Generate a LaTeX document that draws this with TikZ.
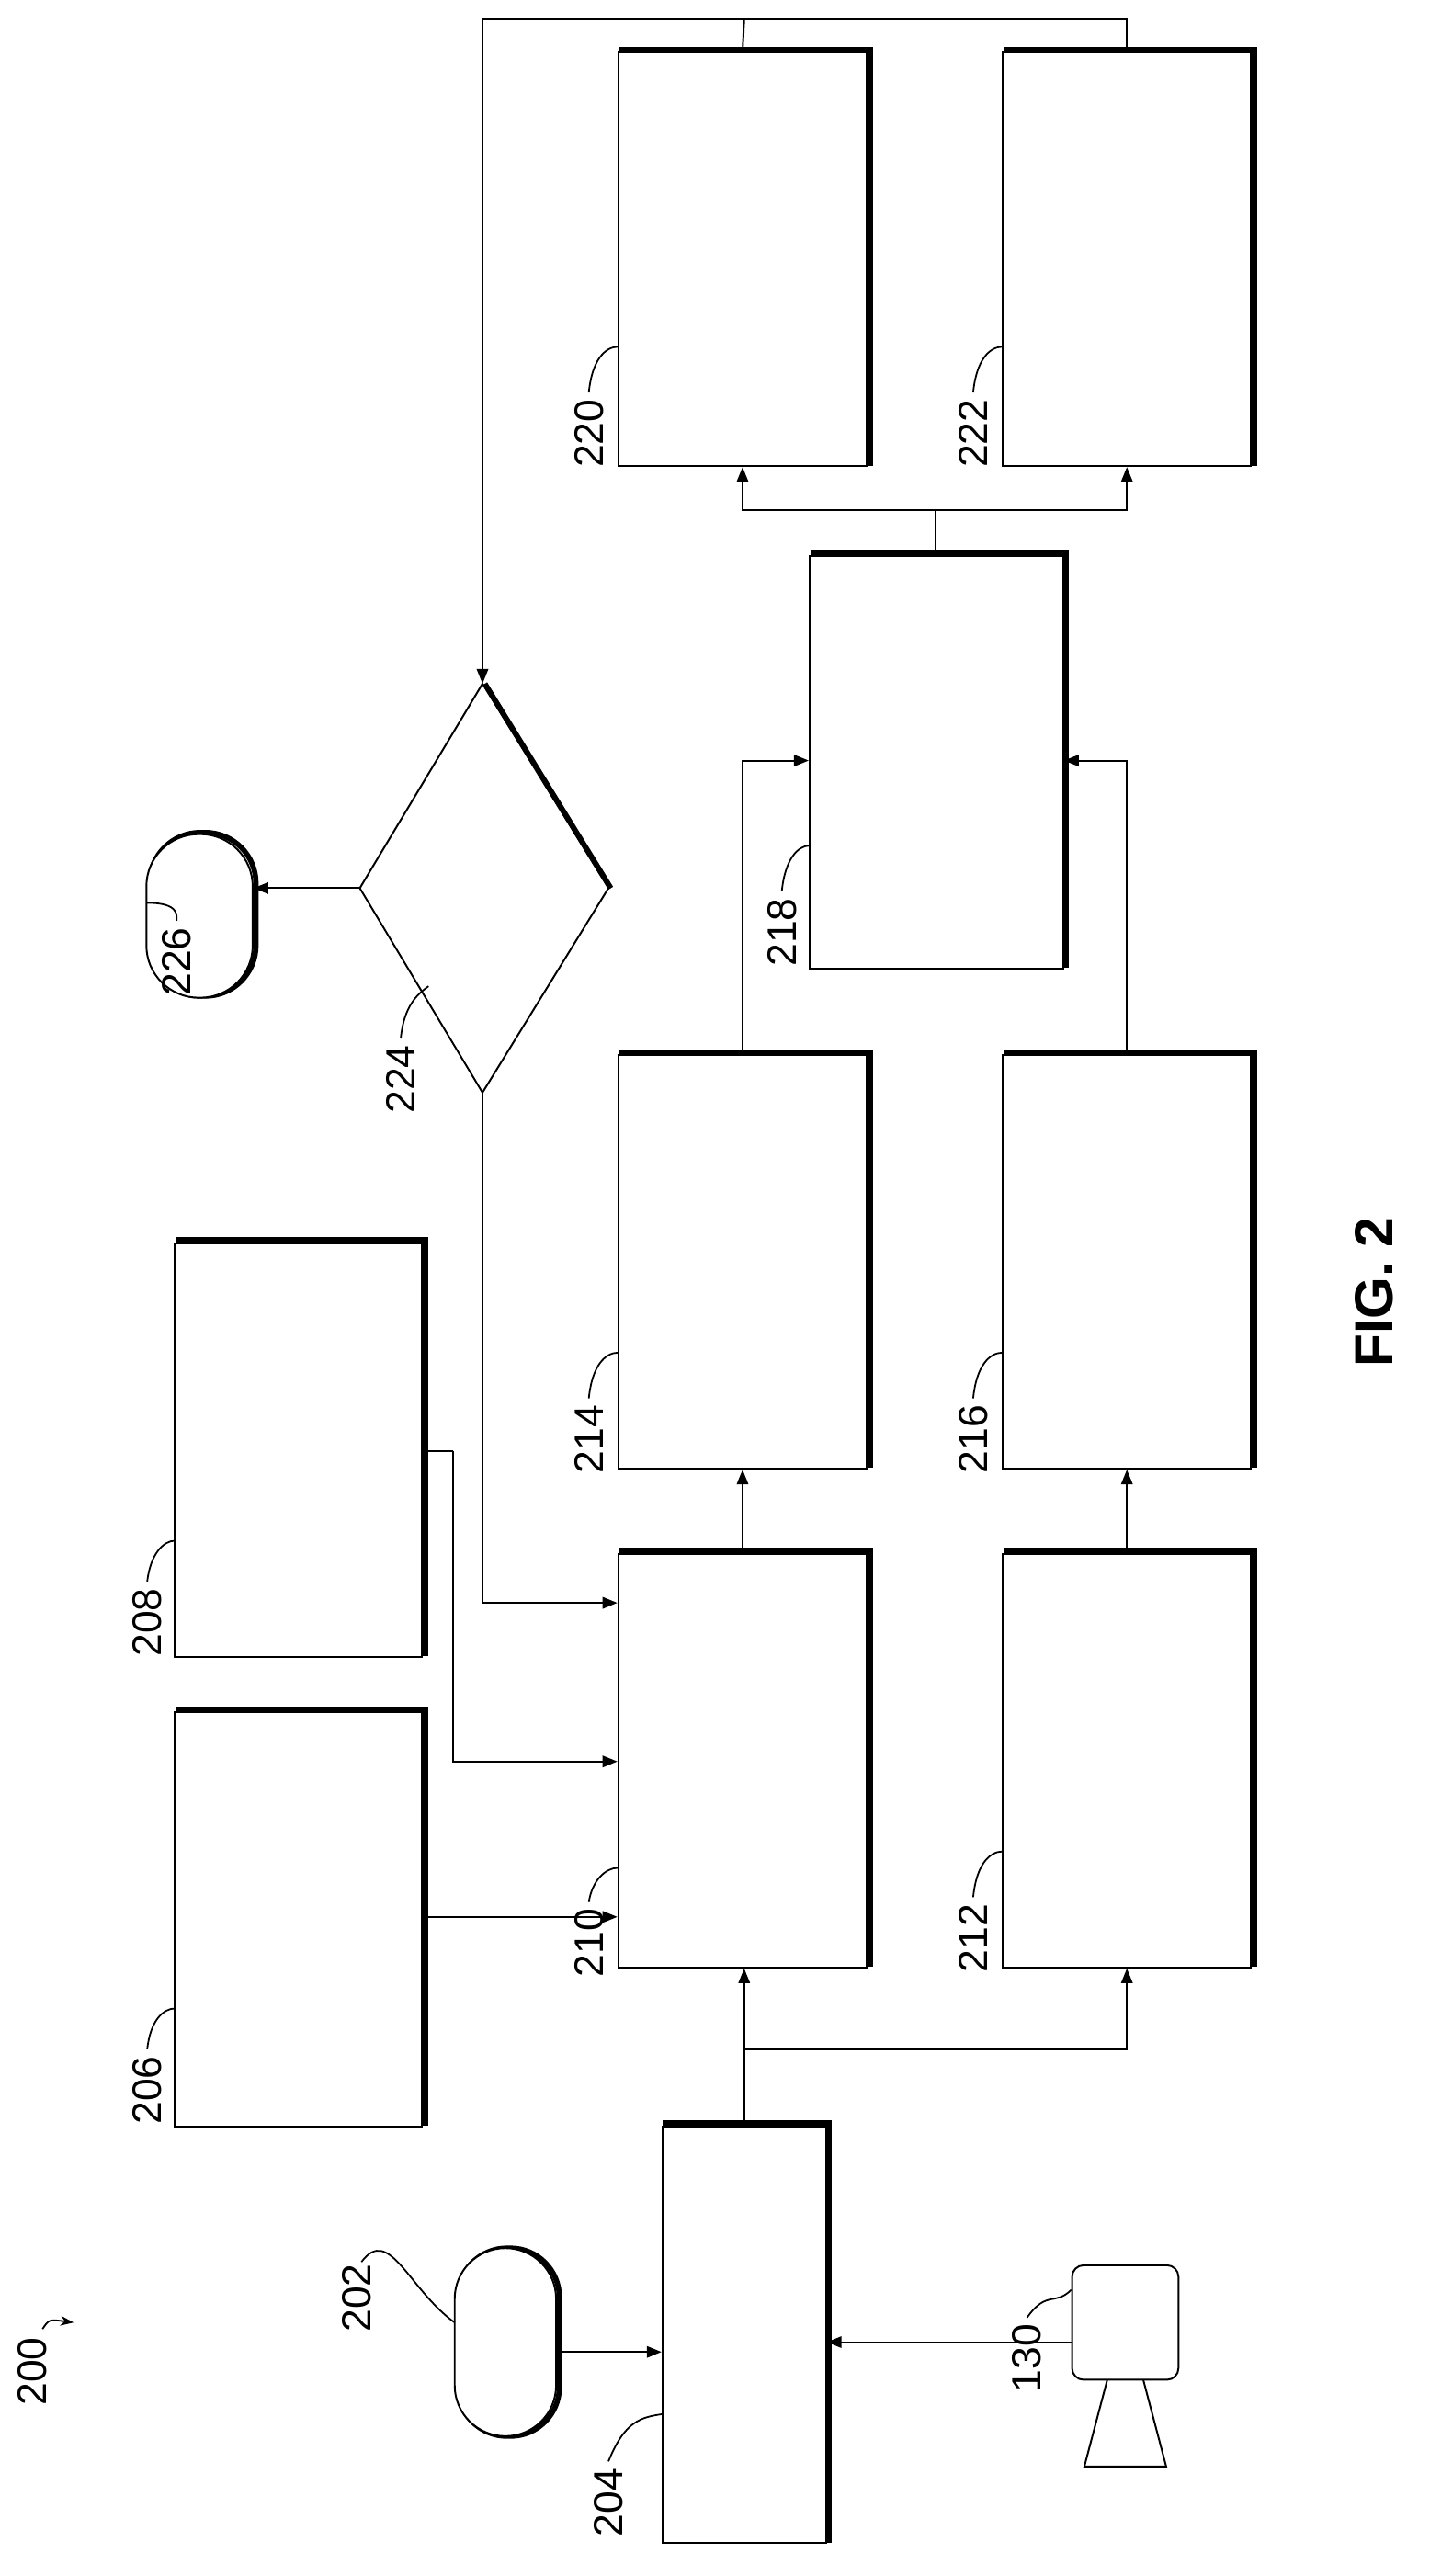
\documentclass[tikz,border=0pt]{standalone}
\usepackage{fontspec}
\setmainfont{Liberation Sans}
\usetikzlibrary{arrows.meta}
\tikzset{
  ln/.style={line width=1.1pt},
  arr/.style={ln,-{Triangle[length=9pt,width=7pt]}},
  shd/.style={draw,line width=3.2pt},
  bx/.style={draw,fill=white,line width=1.1pt,inner sep=0pt},
  lbl/.style={rotate=90,font=\fontsize{25}{25}\selectfont,inner sep=1pt},
  ldr/.style={line width=1pt}
}
\newcommand\mybox[5]{%
  \node[shd,minimum width=#4-#2,minimum height=#5-#3,inner sep=0pt] (s#1) at ({(#2+#4)/2+2},{(#3+#5)/2-2}) {};
  \node[bx,minimum width=#4-#2,minimum height=#5-#3] (b#1) at ({(#2+#4)/2},{(#3+#5)/2}) {};}
\begin{document}
\begin{tikzpicture}[x=1pt,y=-1pt]
\useasboundingbox (0,0) rectangle (874,1575);
% boxes
\mybox{206}{107}{1047}{258}{1300}
\mybox{208}{107}{760}{258}{1013}
\mybox{210}{378}{950}{530}{1203}
\mybox{212}{613}{950}{765}{1203}
\mybox{214}{378}{645}{530}{898}
\mybox{216}{613}{645}{765}{898}
\mybox{218}{495}{340}{650}{592}
\mybox{220}{378}{32}{530}{285}
\mybox{222}{613}{32}{765}{285}
\mybox{204}{405}{1300}{505}{1555}
% stadiums
\node[shd,minimum width=62,minimum height=115,rounded corners=30,inner sep=0pt] (s202) at (311,1432) {};
\node[bx,minimum width=62,minimum height=115,rounded corners=31] (b202) at (309,1432) {};
\node[shd,minimum width=65,minimum height=100,rounded corners=31,inner sep=0pt] (s226) at (124,559) {};
\node[bx,minimum width=65,minimum height=100,rounded corners=32] (b226) at (122,560) {};
% diamond
\coordinate (dt) at (295,418); \coordinate (dr) at (372,543);
\coordinate (db) at (295,668); \coordinate (dl) at (220,543);
\draw[ln] (dt) -- (dr) -- (db) -- (dl) -- cycle;
\draw[line width=3.2pt] ([xshift=1.5pt]dt) -- ([xshift=1.5pt]dr);
% camera
\node[draw,ln,minimum width=65,minimum height=70,rounded corners=7] (cam) at (688,1420) {};
\coordinate (l1) at (677,1455); \coordinate (l2) at (699,1455);
\draw[ln] (l1) -- (663,1508) -- (713,1508) -- (l2);
% connectors
\draw[arr] (b202.east |- 0,1438) -- (b204.west |- 0,1438);
\draw[arr] (cam.west |- 0,1432) -- (b204.east |- 0,1432);
\draw[arr] (455,1300) -- (b210.south -| 455,0);
\coordinate (j1) at (455,1253);
\draw[arr] (j1) -| (b212.south);
\draw[arr] (b206.east |- 0,1172) -- (b210.west |- 0,1172);
\coordinate (j2) at (277,887);
\draw[ln] (b208.east |- 0,887) -- (j2);
\draw[arr] (j2) |- (b210.west |- 0,1077);
\draw[arr] (db) |- (b210.west |- 0,980);
\draw[arr] (b210.north) -- (b214.south);
\draw[arr] (b212.north) -- (b216.south);
\draw[arr] (b214.north) |- (b218.west |- 0,465);
\draw[arr] (b216.north) |- (b218.east |- 0,465);
\coordinate (j3) at (572,312);
\draw[ln] (b218.north -| 572,0) -- (j3);
\draw[arr] (j3) -| (b220.south);
\draw[arr] (j3) -| (b222.south);
\coordinate (j4) at (295,12);
\draw[ln] (b220.north) -- (455,12);
\draw[ln] (b222.north) |- (j4);
\draw[arr] (j4) -- (dt);
\draw[arr] (dl) -- (b226.east |- dl);
% labels
\node[lbl] (t200) at (20,1450) {200};
\draw[ldr,-{Stealth[length=8pt]}] (t200.east) ++(6,-4) .. controls (30,1418) .. (45,1420);
\node[lbl] (t202) at (218,1405) {202};
\draw[ldr] (t202.east) ++(3,0) .. controls (238,1360) and (250,1400) .. (278,1420);
\node[lbl] (t204) at (372,1530) {204};
\draw[ldr] (t204.east) ++(0,-3) .. controls (382,1480) and (392,1478) .. (405,1476);
\node[lbl] (t206) at (90,1278) {206};
\draw[ldr] (t206.east) ++(0,-3) .. controls (92,1235) and (100,1228) .. (107,1228);
\node[lbl] (t208) at (90,992) {208};
\draw[ldr] (t208.east) ++(0,-3) .. controls (92,950) and (100,942) .. (107,942);
\node[lbl] (t210) at (360,1188) {210};
\draw[ldr] (t210.east) ++(0,-3) .. controls (362,1150) and (370,1142) .. (378,1142);
\node[lbl] (t212) at (595,1185) {212};
\draw[ldr] (t212.east) ++(0,-3) .. controls (597,1140) and (605,1132) .. (613,1132);
\node[lbl] (t214) at (360,880) {214};
\draw[ldr] (t214.east) ++(0,-3) .. controls (362,835) and (370,827) .. (378,827);
\node[lbl] (t216) at (595,880) {216};
\draw[ldr] (t216.east) ++(0,-3) .. controls (597,835) and (605,827) .. (613,827);
\node[lbl] (t218) at (478,570) {218};
\draw[ldr] (t218.east) ++(0,-3) .. controls (480,525) and (488,517) .. (495,517);
\node[lbl] (t220) at (360,265) {220};
\draw[ldr] (t220.east) ++(0,-3) .. controls (362,220) and (370,212) .. (378,212);
\node[lbl] (t222) at (595,265) {222};
\draw[ldr] (t222.east) ++(0,-3) .. controls (597,220) and (605,212) .. (613,212);
\node[lbl] (t224) at (245,660) {224};
\draw[ldr] (t224.east) ++(0,-3) .. controls (247,615) and (255,608) .. (262,603);
\node[lbl] (t226) at (108,588) {226};
\draw[ldr] (t226.east) ++(0,-3) .. controls (108,560) and (110,552) .. (90,552);
\node[lbl] (t130) at (628,1442) {130};
\draw[ldr] (t130.east) ++(0,-3) .. controls (640,1400) and (645,1410) .. (655,1400);
\node[rotate=90,font=\bfseries\fontsize{33}{33}\selectfont] (fig) at (840,790) {FIG. 2};
\end{tikzpicture}
\end{document}
